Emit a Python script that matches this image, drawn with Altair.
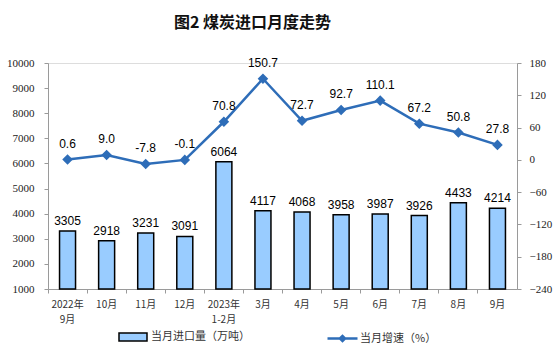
import altair as alt
import pandas as pd

categories = ["2022年|9月", "10月", "11月", "12月", "2023年|1-2月", "3月", "4月", "5月", "6月", "7月", "8月", "9月"]
imports = [3305, 2918, 3231, 3091, 6064, 4117, 4068, 3958, 3987, 3926, 4433, 4214]
growth = [0.6, 9.0, -7.8, -0.1, 70.8, 150.7, 72.7, 92.7, 110.1, 67.2, 50.8, 27.8]
left_ticks = list(range(1000, 10001, 1000))
right_ticks = list(range(-240, 181, 60))

bar_name = "当月进口量（万吨）"
line_name = "当月增速（%）"

df = pd.DataFrame({
    "cat": categories,
    "imports": imports,
    "base": [left_ticks[0]] * len(categories),
    "growth": growth,
    "bar_series": [bar_name] * len(categories),
    "line_series": [line_name] * len(categories),
})
df["growth_label"] = [f"{v:.1f}" for v in growth]

CJK = "Noto Sans CJK SC"
LINE_COLOR = "#2E6DB8"
BAR_COLOR = "#99CCFF"

x = alt.X("cat:N", sort=categories, title=None,
          scale=alt.Scale(paddingInner=0, paddingOuter=0),
          axis=alt.Axis(labelAngle=0, labelExpr="split(datum.label, '|')",
                        labelFont=CJK, labelFontSize=10, labelColor="#333333",
                        labelPadding=6, labelLineHeight=15,
                        domainColor="#9a9a9a", tickColor="#9a9a9a", tickSize=4,
                        bandPosition=0, labelBaseline="top"))

yl = alt.Y("imports:Q", title=None,
           scale=alt.Scale(domain=[1000, 10000], zero=False, nice=False),
           axis=alt.Axis(values=left_ticks, grid=False, format="d", labelOverlap=False,
                         labelFont="Liberation Serif",
                         labelFontSize=11, labelColor="#222222", domainColor="#9a9a9a",
                         tickColor="#9a9a9a", tickSize=4, labelPadding=10))

bars = alt.Chart(df).mark_bar(size=16, stroke="black", strokeWidth=1.5).encode(
    x=x,
    y=yl,
    y2="base:Q",
    fill=alt.Fill("bar_series:N", title=None,
                  scale=alt.Scale(domain=[bar_name], range=[BAR_COLOR]),
                  legend=alt.Legend(orient="none", legendX=70, legendY=259,
                                    symbolType="M-1,-0.28H1V0.28H-1Z", symbolSize=784,
                                    symbolStrokeColor="black", symbolStrokeWidth=1.5,
                                    labelFont=CJK, labelFontSize=11, labelColor="#333333",
                                    labelOffset=3)),
)

bar_text = alt.Chart(df).mark_text(baseline="bottom", dy=-3, font="Liberation Sans",
                                   fontSize=12, color="black").encode(
    x=x,
    y=yl,
    text="imports:Q",
)

left = alt.layer(bars, bar_text)

yr = alt.Y("growth:Q", title=None,
           scale=alt.Scale(domain=[-240, 180], nice=False, zero=False),
           axis=alt.Axis(orient="right", values=right_ticks, grid=False, format="d",
                         labelOverlap=False,
                         labelFont="Liberation Serif", labelFontSize=11, labelColor="#222222",
                         domainColor="#9a9a9a", tickColor="#9a9a9a", tickSize=4, labelPadding=8))

line = alt.Chart(df).mark_line(strokeWidth=2.5, color=LINE_COLOR,
                               point=alt.OverlayMarkDef(shape="diamond", size=60, filled=True,
                                                        color=LINE_COLOR)).encode(
    x=x,
    y=yr,
    stroke=alt.Stroke("line_series:N", title=None,
                      scale=alt.Scale(domain=[line_name], range=[LINE_COLOR]),
                      legend=alt.Legend(orient="none", legendX=278, legendY=259,
                                        symbolType="M-1,0H1M-0.17,0L0,-0.17L0.17,0L0,0.17Z",
                                        symbolSize=900, symbolStrokeWidth=2.5,
                                        symbolFillColor=LINE_COLOR,
                                        labelFont=CJK, labelFontSize=11, labelColor="#333333",
                                        labelOffset=1)),
)

line_text = alt.Chart(df).mark_text(baseline="bottom", dy=-9, font="Liberation Sans",
                                    fontSize=12, color="black").encode(
    x=x,
    y=yr,
    text="growth_label:N",
)

right = alt.layer(line, line_text)

chart = alt.layer(left, right).resolve_scale(y="independent").properties(
    width=469,
    height=226,
    padding={"left": 48, "top": 63, "right": 37, "bottom": 68},
    autosize=alt.AutoSizeParams(type="none"),
    title=alt.TitleParams("图2  煤炭进口月度走势", font=CJK, fontSize=16, fontWeight="bold",
                          color="#111111", anchor="middle", offset=26, dx=-30),
).configure_view(stroke=None).configure(background="white")

chart.save("out.html", embed_options={"renderer": "svg", "actions": False})
